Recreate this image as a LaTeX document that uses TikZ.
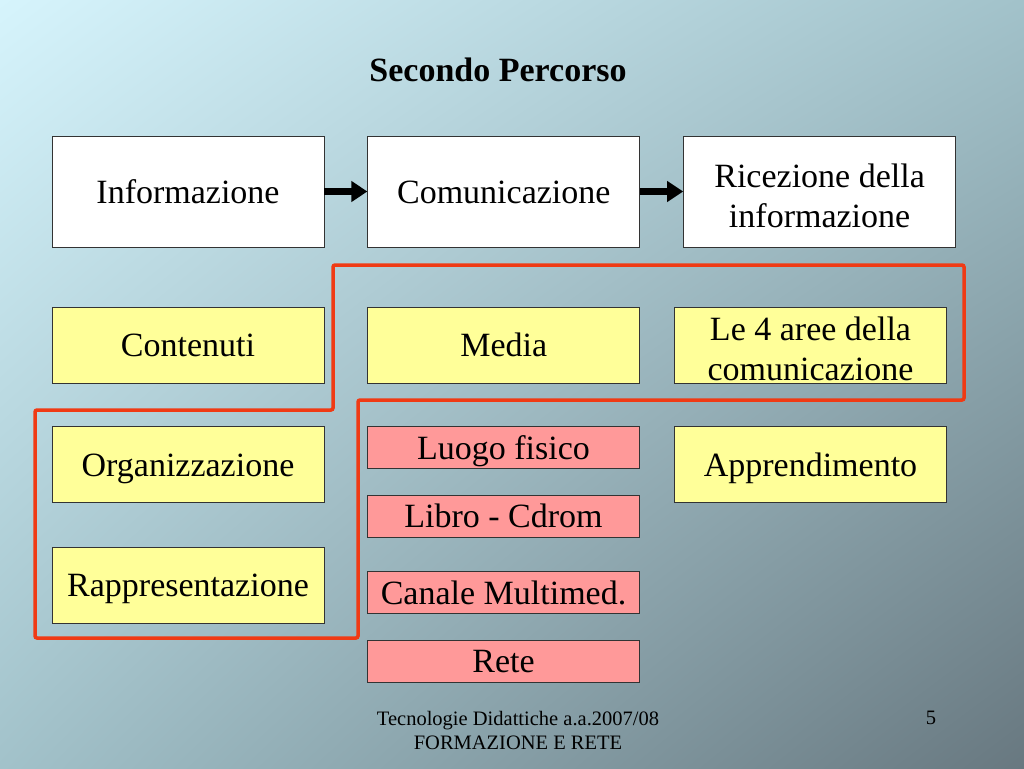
\documentclass[tikz,border=0pt]{standalone}
\usepackage{fontspec}
\setmainfont{Liberation Serif}
\usetikzlibrary{arrows.meta, positioning, calc, shadings}
\definecolor{colour_tl}{HTML}{D6F4FC}
\definecolor{colour_tr}{HTML}{A2C2CA}
\definecolor{colour_bl}{HTML}{A2C2CA}
\definecolor{colour_br}{HTML}{687880}
\definecolor{colour_y}{HTML}{FFFF99}
\definecolor{colour_p}{HTML}{FF9999}
\definecolor{colour_r}{HTML}{F03A14}

\begin{document}
\begin{tikzpicture}
   [
      x=1pt, y=-1pt,
      box/.style={draw=black!80, line width=0.8pt, minimum width=272pt, inner xsep=2pt, inner ysep=0pt,
                  align=center, font=\fontsize{34}{40}\selectfont, text height=30.7pt, text depth=7.5pt},
      twoline/.style={text height=71pt, text depth=0pt},
      whitebox/.style={box, fill=white, minimum height=111pt},
      yellowbox/.style={box, fill=colour_y, minimum height=76pt},
      pinkbox/.style={box, fill=colour_p, minimum height=42pt},
      flow/.style={line width=6.5pt, -{Triangle[length=16pt, width=20pt]}},
      outline/.style={draw=colour_r, line width=3.5pt, rounded corners=2pt},
      footer/.style={font=\fontsize{20.5}{24}\selectfont, align=center},
      node distance=43pt
   ]

   % background
   \shade[upper left=colour_tl, upper right=colour_tr, lower left=colour_bl, lower right=colour_br]
      (0,0) rectangle (1024,768);

   \node[font=\bfseries\fontsize{34}{40}\selectfont] (title) at (498,70) {Secondo Percorso};

   % =======================================================
   % Top row
   % =======================================================

   \node[whitebox] (info) at (188,191.5) {Informazione};
   \node[whitebox, right=of info] (comm) {Comunicazione};
   \node[whitebox, twoline, right=of comm] (ricez) {Ricezione della\\informazione};

   \draw[flow] (info) -- (comm);
   \draw[flow] (comm) -- (ricez);

   % =======================================================
   % Yellow boxes
   % =======================================================

   \node[yellowbox] (cont) at (188,345) {Contenuti};
   \node[yellowbox, right=of cont] (media) {Media};
   \node[yellowbox, twoline] (aree) at (810.5,345) {Le 4 aree della\\comunicazione};
   \node[yellowbox] (organ) at (188,464.5) {Organizzazione};
   \node[yellowbox, below=44pt of organ] (rappr) {Rappresentazione};
   \node[yellowbox] (appr) at (810.5,464.5) {Apprendimento};

   % =======================================================
   % Pink boxes (media)
   % =======================================================

   \node[pinkbox] (luogo) at (503.5,447.5) {Luogo fisico};
   \node[pinkbox] (libro) at (503.5,516) {Libro - Cdrom};
   \node[pinkbox] (canale) at (503.5,592.5) {Canale Multimed.};
   \node[pinkbox] (rete) at (503.5,661) {Rete};

   % red outline
   \draw[outline] (333,265) -- (964,265) -- (964,400) -- (358,400) -- (358,638)
      -- (35,638) -- (35,410) -- (333,410) -- cycle;

   % footer
   \node[footer] (foot) at (518,730) {Tecnologie Didattiche a.a.2007/08\\FORMAZIONE E RETE};
   \node[footer] (page) at (931,718) {5};

\end{tikzpicture}
\end{document}
